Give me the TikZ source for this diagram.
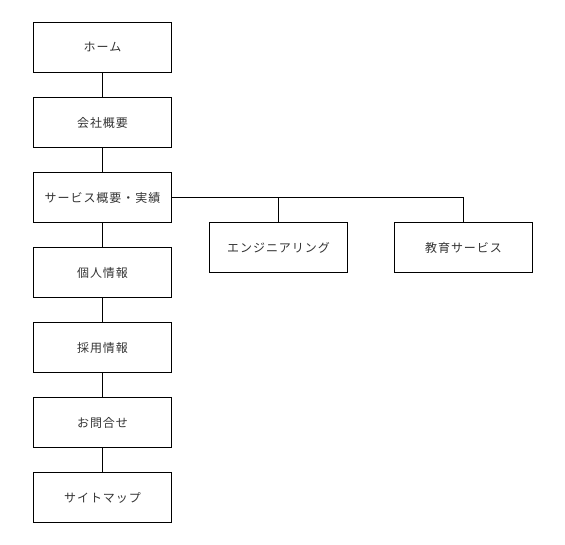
\documentclass[tikz,border=0pt]{standalone}
\usepackage{fontspec}
\setmainfont[LetterSpace=8]{Noto Sans CJK JP}
\begin{document}
\begin{tikzpicture}[x=1pt,y=-1pt,
  pagebox/.style={draw=black,line width=1pt,minimum width=138pt,minimum height=50pt,inner sep=0pt,anchor=north west,
    font=\fontsize{12}{14}\selectfont,text=black!80},
  link/.style={draw=black,line width=1pt}]
\useasboundingbox (0,0) rectangle (565,545);
\node[pagebox] (home) at (33,22) {ホーム};
\node[pagebox] (company) at (33,97) {会社概要};
\node[pagebox] (service) at (33,172) {サービス概要・実績};
\node[pagebox] (personal) at (33,247) {個人情報};
\node[pagebox] (recruit) at (33,322) {採用情報};
\node[pagebox] (contact) at (33,397) {お問合せ};
\node[pagebox] (sitemap) at (33,472) {サイトマップ};
\node[pagebox] (eng) at (209,222) {エンジニアリング};
\node[pagebox] (edu) at (394,222) {教育サービス};
\draw[link] (home) -- (company);
\draw[link] (company) -- (service);
\draw[link] (service) -- (personal);
\draw[link] (personal) -- (recruit);
\draw[link] (recruit) -- (contact);
\draw[link] (contact) -- (sitemap);
\draw[link] (service.east) -| (edu.north);
\draw[link] (eng.north) -- (eng.north |- service.east);
\end{tikzpicture}
\end{document}
